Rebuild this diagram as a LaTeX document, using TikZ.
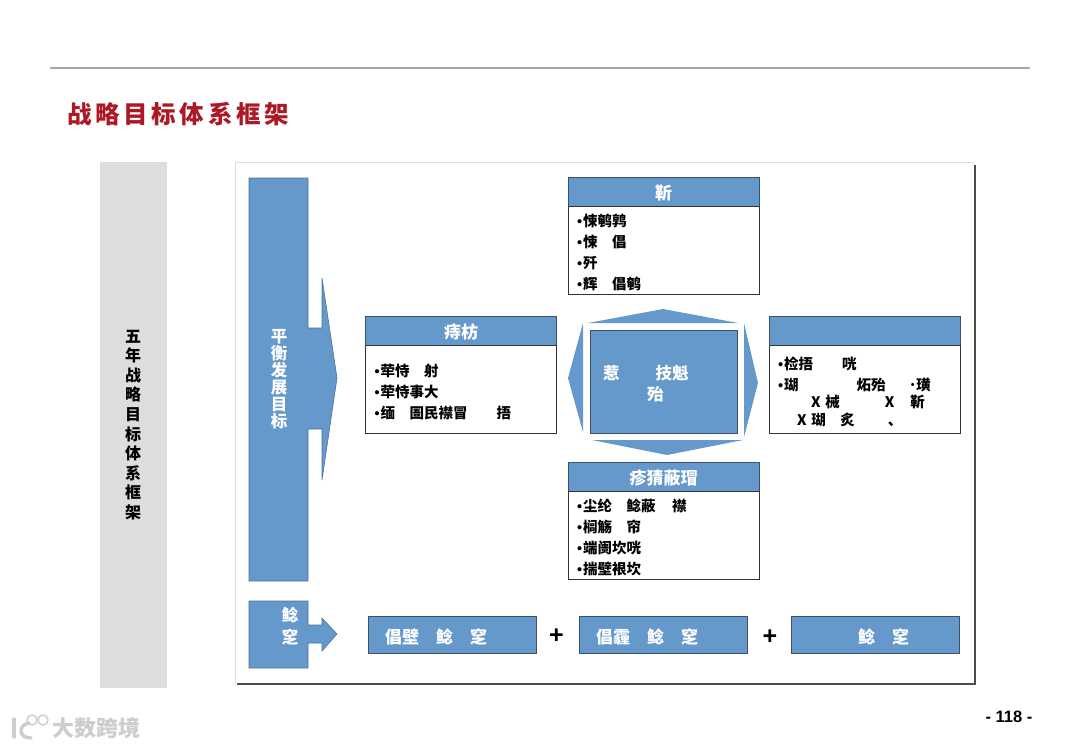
\documentclass[tikz,border=0pt]{standalone}
\usepackage{xcolor}
\usepackage{fontspec}
\setmainfont{Noto Sans CJK SC}
\newfontfamily\numfont{Liberation Sans}
\usetikzlibrary{arrows.meta,positioning}
\definecolor{panelblue}{RGB}{101,152,203}
\definecolor{edgeblue}{RGB}{60,80,105}
\definecolor{titlered}{RGB}{172,24,36}
\definecolor{sidegray}{RGB}{221,221,221}
\definecolor{marklight}{RGB}{205,205,205}
\newcommand{\dotitem}{{\numfont\bfseries •}\hspace{1pt}}
\tikzset{
  headbox/.style={draw=edgeblue, line width=1pt, fill=panelblue, text=white, inner sep=0pt, outer sep=0pt,
    minimum width=191pt, minimum height=29pt, text height=16pt, text depth=0pt, anchor=north west, font=\fontsize{17}{20}\selectfont\bfseries},
  listbox/.style={draw=black!80, line width=1pt, fill=white, inner xsep=9pt, inner ysep=0pt, outer sep=0pt,
    minimum height=88pt, text width=173pt, align=left, anchor=north west, font=\fontsize{14.5}{21}\selectfont\bfseries,
    execute at begin node=\rule{0pt}{18pt}},
  sumbox/.style={draw=edgeblue, line width=1pt, fill=panelblue, text=white, inner xsep=17pt, inner ysep=0pt, outer sep=0pt,
    minimum height=37pt, text width=134pt, text height=17pt, text depth=0pt, align=left, anchor=north west, font=\fontsize{17}{20}\selectfont\bfseries},
  whitetext/.style={text=white, inner sep=0pt, align=center, font=\fontsize{16.5}{17}\selectfont\bfseries},
}
\begin{document}
\begin{tikzpicture}[x=1pt, y=-1pt]
\useasboundingbox (0,0) rectangle (1080,748);
\fill[white] (0,0) rectangle (1080,748);
% top rule and title
\draw[line width=1.4pt, color=black!35] (50,68) -- (1030,68);
\node[anchor=west, inner sep=0pt, text=titlered, font=\fontsize{24.5}{28}\selectfont\bfseries\addfontfeature{LetterSpace=15}] (title) at (67,114) {战略目标体系框架};
% side column
\fill[sidegray] (100,162) rectangle (167,688);
\node[inner sep=0pt, align=center, font=\fontsize{16}{19.6}\selectfont\bfseries] (sidetext) at (133,425) {五\\年\\战\\略\\目\\标\\体\\系\\框\\架};
% panel with its shadow
\draw[line width=1pt, color=black!13] (235,684) -- (235,162.5) -- (974,162.5);
\draw[line width=2pt, color=black!70] (237,683.5) -- (974.5,683.5) -- (974.5,165);
% big arrow
\path[fill=panelblue, draw=edgeblue!50!panelblue, line width=0.6pt] (249,178) -- (308,178) -- (308,328) -- (322,328) -- (322,278) -- (337,378) -- (322,480) -- (322,429) -- (308,429) -- (308,581) -- (249,581) -- cycle;
\node[whitetext] (balance) at (279,379) {平\\衡\\发\\展\\目\\标};
% small arrow
\path[fill=panelblue, draw=edgeblue!50!panelblue, line width=0.6pt] (249,601) -- (308,601) -- (308,625) -- (322,625) -- (322,618) -- (337,634) -- (322,651) -- (322,643) -- (308,643) -- (308,668) -- (249,668) -- cycle;
\node[whitetext, font=\fontsize{16.5}{22}\selectfont\bfseries] (source) at (290,626) {鲶\\窆};
% four blocks
\node[headbox] (tophead) at (568,177) {靳};
\node[listbox] (toplist) at (568,206) {\dotitem 悚鹌鹑\\\dotitem 悚\quad 倡\\\dotitem 歼\\\dotitem 辉\quad 倡鹌};
\node[headbox] (lefthead) at (365.5,316) {痔枋};
\node[listbox] (leftlist) at (365.5,345) {\dotitem 荦恃\quad 射\\\dotitem 荦恃事大\\\dotitem 缅\quad 圄民襟冒\quad\quad 捂};
\node[headbox] (righthead) at (769,316) {};
\node[listbox] (rightlist) at (769,345) {\dotitem 检捂\quad\quad 咣\\[0pt]\dotitem 瑚\quad\quad\quad\quad 炻殆\quad\hspace*{9pt}˙璜\\[-3.5pt]\hspace*{33pt}X 械\hspace*{45pt}X\hspace*{16pt}靳\\[-3.5pt]\hspace*{19pt}X 瑚\quad 炙\hspace*{33pt}、};
\node[headbox] (lowhead) at (568,462) {疹猜蔽瑁};
\node[listbox] (lowlist) at (568,491) {\dotitem 尘纶\quad 鲶蔽\quad\hspace*{2pt}襟\\\dotitem 榈觞\quad 帘\\\dotitem 端阓坎咣\\\dotitem 揣壁裉坎};
% centre block
\fill[panelblue] (588,323) -- (663,309) -- (738,323) -- cycle;
\fill[panelblue] (583,323) -- (568,378) -- (583,432) -- cycle;
\fill[panelblue] (744,323) -- (758,383) -- (744,437) -- cycle;
\fill[panelblue] (592,440) -- (667,455) -- (743,440) -- cycle;
\node[draw=edgeblue, line width=1pt, fill=panelblue, inner sep=0pt, outer sep=0pt, minimum width=147pt, minimum height=103pt, anchor=north west] (core) at (590,330) {};
\node[whitetext, align=left, anchor=west, font=\fontsize{16.5}{21}\selectfont\bfseries] (coretext) at (603,384) {惹\hspace*{36pt}技魁\\\hspace*{44pt}殆};
% bottom row
\node[sumbox] (sumone) at (368,616) {倡壁\quad 鲶\quad 窆};
\node[sumbox] (sumtwo) at (579,616) {倡霾\quad 鲶\quad 窆};
\node[sumbox] (sumthree) at (791,616) {\hspace*{50pt}鲶\quad 窆};
\node[inner sep=0pt, font=\fontsize{25}{26}\selectfont\bfseries\numfont] (plusone) at (556.5,636) {+};
\node[inner sep=0pt, font=\fontsize{25}{26}\selectfont\bfseries\numfont] (plustwo) at (770,637) {+};
% page number and mark
\node[inner sep=0pt, font=\fontsize{16.5}{18}\selectfont\bfseries\numfont] (pageno) at (1009,717) {- 118 -};
\draw[line width=3.5pt, color=marklight, line cap=round] (14,719) -- (14,737);
\draw[line width=3.5pt, color=marklight, line cap=round] (29,723) .. controls (18,725) and (18,738) .. (31,738);
\draw[line width=1.4pt, color=marklight] (32,720) circle (5) (43,720) circle (5);
\node[inner sep=0pt, anchor=west, text=marklight, font=\fontsize{22}{24}\selectfont\bfseries] (mark) at (52,728) {大数跨境};
\end{tikzpicture}
\end{document}
